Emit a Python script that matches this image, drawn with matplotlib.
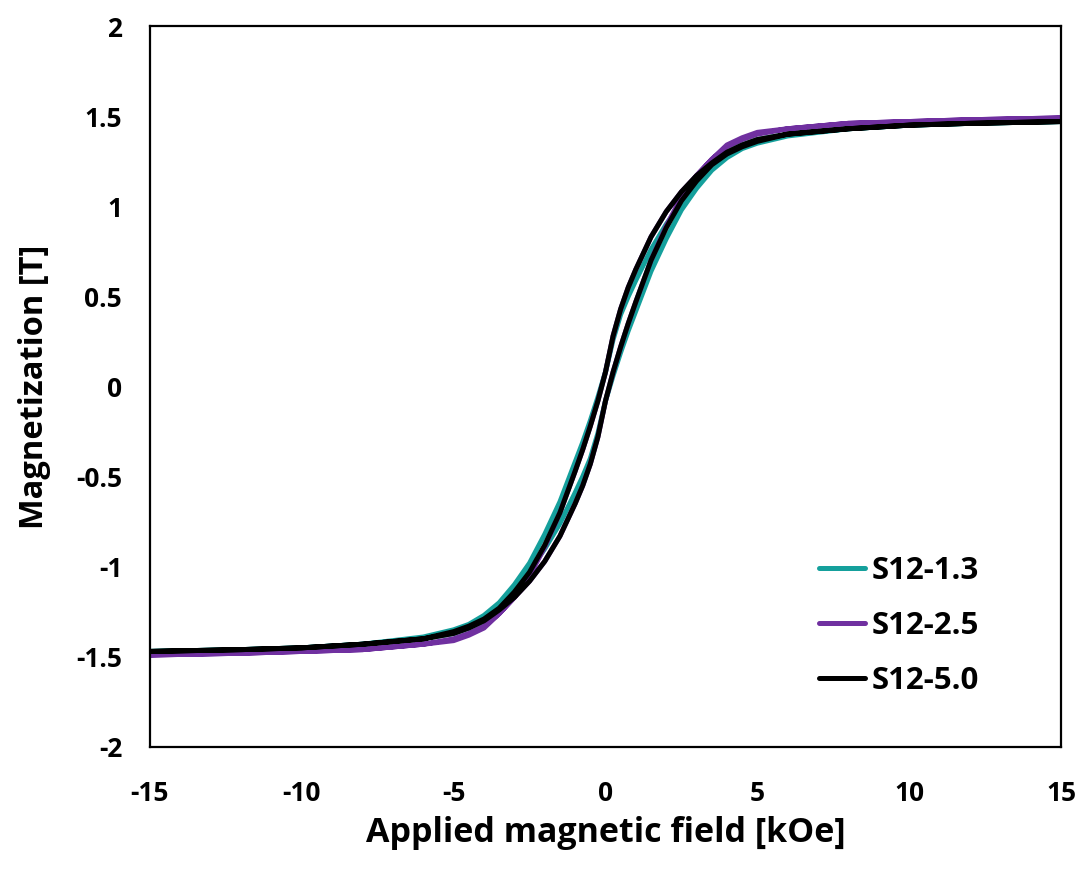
import numpy as np
import matplotlib
matplotlib.use("Agg")
import matplotlib.pyplot as plt

plt.rcParams['font.family'] = ['Open Sans', 'DejaVu Sans']
plt.rcParams['font.weight'] = 'bold'
plt.rcParams['axes.unicode_minus'] = False

# Ascending branches (H in kOe, M in T); the descending branch is the point reflection
H_field = [-15, -12, -10, -8, -6, -5, -4.5, -4, -3.5, -3, -2.5, -2, -1.5, -1, -0.75, -0.5, -0.25, 0,
           0.25, 0.5, 0.75, 1, 1.5, 2, 2.5, 3, 3.5, 4, 4.5, 5, 6, 8, 10, 12, 15]

M_black = [-1.47, -1.46, -1.45, -1.43, -1.40, -1.37, -1.34, -1.30, -1.24, -1.17, -1.08, -0.97, -0.83, -0.65,
           -0.55, -0.43, -0.28, -0.08, 0.08, 0.22, 0.35, 0.47, 0.70, 0.88, 1.03, 1.14, 1.23, 1.29, 1.33,
           1.36, 1.40, 1.43, 1.45, 1.46, 1.47]

M_teal = [-1.47, -1.46, -1.45, -1.43, -1.40, -1.37, -1.34, -1.30, -1.22, -1.13, -1.02, -0.90, -0.76, -0.59,
          -0.50, -0.40, -0.26, -0.08, 0.06, 0.19, 0.31, 0.42, 0.64, 0.82, 0.98, 1.10, 1.20, 1.27, 1.32,
          1.35, 1.39, 1.43, 1.45, 1.46, 1.47]

M_purple = [-1.49, -1.48, -1.47, -1.46, -1.43, -1.41, -1.38, -1.34, -1.26, -1.17, -1.08, -0.97, -0.83, -0.65,
            -0.55, -0.43, -0.28, -0.08, 0.08, 0.22, 0.35, 0.47, 0.70, 0.89, 1.05, 1.17, 1.26, 1.33, 1.37,
            1.40, 1.43, 1.46, 1.47, 1.48, 1.49]

labels = ['S12-1.3', 'S12-2.5', 'S12-5.0']
colors = ['#15a09c', '#7030a0', '#000000']

x_ticks = [-15, -10, -5, 0, 5, 10, 15]
y_ticks = [-2, -1.5, -1, -0.5, 0, 0.5, 1, 1.5, 2]
y_ticklabels = ['-2', '-1.5', '-1', '-0.5', '0', '0.5', '1', '1.5', '2']

fig = plt.figure(figsize=(10.85, 8.76), dpi=100)
ax = fig.add_axes([0.1382, 0.1473, 0.8397, 0.8230])

for M, lab, c in zip([M_teal, M_purple, M_black], labels, colors):
    H = np.array(H_field); M = np.array(M)
    Hl = np.concatenate([H, -H])
    Ml = np.concatenate([M, -M])
    ax.plot(Hl, Ml, color=c, lw=3.6, label=lab, solid_capstyle='round', solid_joinstyle='round')

ax.set_xlim(-15, 15)
ax.set_ylim(-2, 2)
ax.set_xticks(x_ticks)
ax.set_xticklabels([str(v) for v in x_ticks])
ax.set_yticks(y_ticks)
ax.set_yticklabels(y_ticklabels)
ax.tick_params(length=0, labelsize=19)
ax.tick_params(axis='x', pad=24)
ax.tick_params(axis='y', pad=20)
for t in ax.get_xticklabels() + ax.get_yticklabels():
    t.set_fontweight('bold')
for s in ax.spines.values():
    s.set_linewidth(1.6)
    s.set_color('black')

ax.set_xlabel('Applied magnetic field [kOe]', fontsize=24.5, fontweight='bold', labelpad=6)
ax.set_ylabel('Magnetization [T]', fontsize=23.5, fontweight='bold', labelpad=18)

leg = ax.legend(loc='upper left', bbox_to_anchor=(0.703, 0.304), frameon=False,
                prop={'size': 22.5, 'weight': 'bold'}, handlelength=1.5,
                handletextpad=0.2, labelspacing=0.8)

fig.savefig('out.png', dpi=100)
